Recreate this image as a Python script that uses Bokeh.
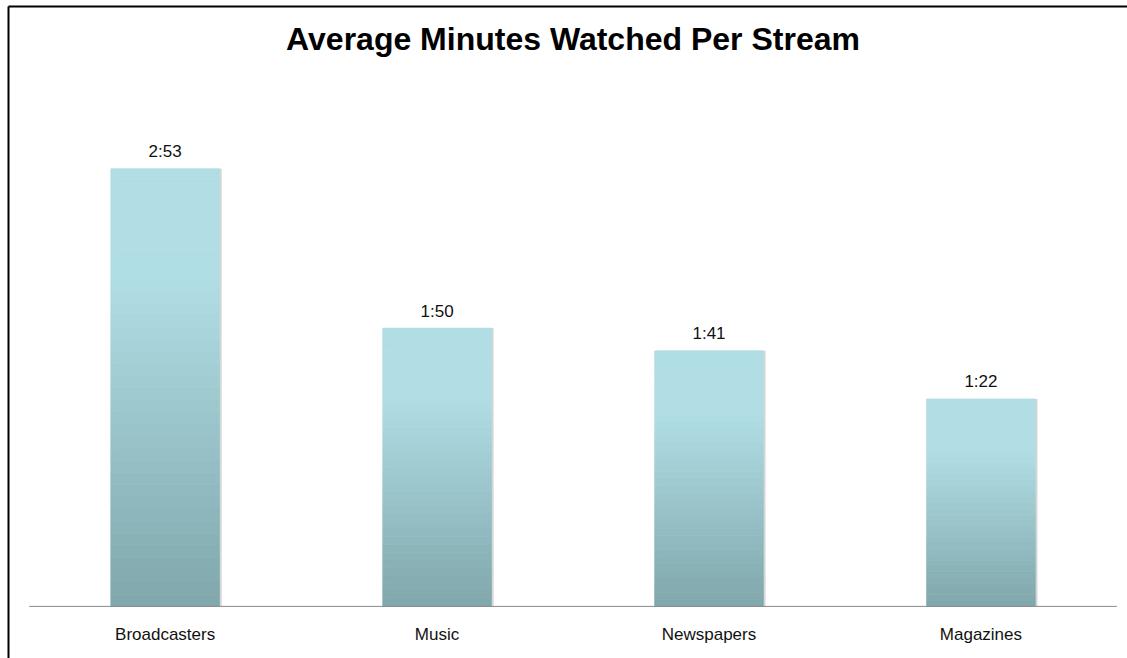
from bokeh.plotting import figure
from bokeh.models import Range1d, LinearAxis, Label
from bokeh.core.properties import value
from bokeh.embed import file_html
from bokeh.resources import INLINE

# ---- data ----
categories = ["Broadcasters", "Music", "Newspapers", "Magazines"]
seconds = [173, 110, 101, 82]            # average watch time in seconds
time_labels = ["2:53", "1:50", "1:41", "1:22"]
title_text = "Average Minutes Watched Per Stream"

# ---- layout constants ----
W, H = 1127, 658
FONT = "Liberation Sans"
TOP_RGB = (176, 222, 228)
BOT_RGB = (127, 167, 172)
N_STRIPS = 36
BAR_W = 0.4

p = figure(width=W, height=H, output_backend="svg", toolbar_location=None,
           x_range=Range1d(-0.576, 3.539), y_range=Range1d(-20.6, 237.1),
           x_axis_location=None, y_axis_location=None,
           min_border_left=8, min_border_top=6, min_border_right=0, min_border_bottom=0)
p.outline_line_color = None
p.xgrid.visible = False
p.ygrid.visible = False
p.background_fill_color = "white"
p.border_fill_color = "white"

# border lines via blank axes
for place in ("left", "above"):
    ax = LinearAxis(major_tick_in=0, major_tick_out=0, minor_tick_in=0, minor_tick_out=0,
                    major_label_text_font_size="0px", major_label_standoff=0,
                    axis_line_color="black", axis_line_width=2)
    ax.major_label_text_color = None
    p.add_layout(ax, place)

# gradient bars built from stacked strips
xs, bots, tops, cols = [], [], [], []
for i, v in enumerate(seconds):
    for k in range(N_STRIPS):
        s = (k + 0.5) / N_STRIPS
        m = min(1.0, s / 0.75)
        rgb = tuple(int(round(BOT_RGB[j] + (TOP_RGB[j] - BOT_RGB[j]) * m)) for j in range(3))
        xs.append(i)
        bots.append(v * k / N_STRIPS)
        tops.append(v * (k + 1) / N_STRIPS)
        cols.append("#%02x%02x%02x" % rgb)

# soft shadow
p.vbar(x=[i + 0.008 for i in range(len(seconds))], top=seconds, bottom=0, width=BAR_W,
       fill_color="#d6d6d6", line_color=None)
p.vbar(x=xs, bottom=bots, top=tops, width=BAR_W, fill_color=cols, line_color=cols, line_width=0.6)

# baseline
p.segment(x0=[-0.5], x1=[len(categories) - 0.5], y0=[0], y1=[0], line_color="#8a8a8a", line_width=1)

# value labels
p.text(x=list(range(len(seconds))), y=seconds, text=time_labels, y_offset=-17,
       text_align="center", text_baseline="alphabetic",
       text_font=value(FONT), text_font_size="17px", text_color="#111111")

# category labels
p.text(x=list(range(len(categories))), y=[0] * len(categories), text=categories, y_offset=28,
       text_align="center", text_baseline="alphabetic",
       text_font=value(FONT), text_font_size="17px", text_color="#111111")

# title
p.add_layout(Label(x=(len(categories) - 1) / 2, y=224.4, text=title_text, text_align="center",
                   text_baseline="alphabetic", text_font=FONT, text_font_style="bold",
                   text_font_size="32px", text_color="#000000"))

open("out.html", "w").write(file_html(p, INLINE))
